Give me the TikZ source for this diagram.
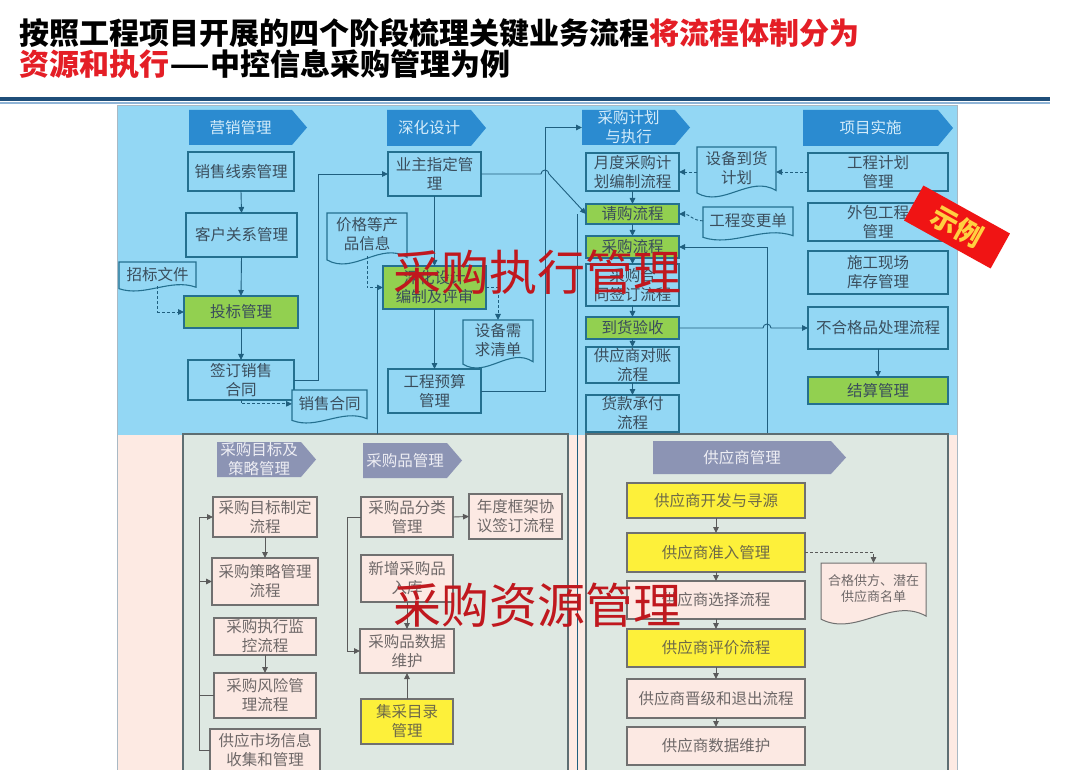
\documentclass[tikz,border=0pt]{standalone}
\usepackage{fontspec}
\usepackage{graphicx}
\newfontfamily\cjk{Noto Sans CJK SC}
\usetikzlibrary{arrows.meta,calc}
\definecolor{topbg}{HTML}{93D7F4}
\definecolor{botbg}{HTML}{FDEAE3}
\definecolor{panelf}{HTML}{DEE8E2}
\definecolor{panelb}{HTML}{5E6E72}
\definecolor{tbord}{HTML}{24708F}
\definecolor{ttext}{HTML}{3A4D5C}
\definecolor{hblue}{HTML}{2B8BD0}
\definecolor{htext}{HTML}{D4ECFA}
\definecolor{hgray}{HTML}{8C94B4}
\definecolor{hgtext}{HTML}{EEEEF4}
\definecolor{green1}{HTML}{92D050}
\definecolor{pfill}{HTML}{FCE9E3}
\definecolor{pbord}{HTML}{707070}
\definecolor{ptext}{HTML}{6E6868}
\definecolor{yel}{HTML}{FDF03A}
\definecolor{ytext}{HTML}{6E6A48}
\definecolor{lcol}{HTML}{1F5F7F}
\definecolor{bl}{HTML}{5A5A5A}
\definecolor{ovred}{HTML}{C0181E}
\definecolor{tred}{HTML}{E41E26}
\definecolor{rule1}{HTML}{1F4E79}
\definecolor{rule2}{HTML}{8FB4D6}
\definecolor{framec}{HTML}{A9B9C4}
\definecolor{tagred}{HTML}{F01414}
\definecolor{tagyel}{HTML}{FFD040}
\tikzset{
 boxbase/.style={rectangle,inner sep=0pt,outer sep=0pt,align=center,font=\cjk\fontsize{15.5}{19}\selectfont},
 tb/.style={boxbase,draw=tbord,line width=1.1pt,fill=topbg,text=ttext},
 tg/.style={tb,fill=green1},
 pb/.style={boxbase,draw=pbord,line width=1.1pt,fill=pfill,text=ptext},
 py/.style={pb,fill=yel,text=ytext},
 doct/.style={draw=tbord,line width=1.1pt,fill=topbg},
 doctextt/.style={boxbase,text=ttext},
 docb/.style={draw=pbord,line width=1pt,fill=pfill},
 doctextb/.style={boxbase,text=ptext,font=\cjk\fontsize{13}{16}\selectfont},
 hdt/.style={fill=hblue},
 hdtextt/.style={boxbase,text=htext},
 hdb/.style={fill=hgray},
 hdtextb/.style={boxbase,text=hgtext},
 con/.style={draw=lcol,line width=0.9pt},
 arr/.style={con,-{Triangle[length=6pt,width=5.5pt]}},
 darr/.style={arr,dash pattern=on 3pt off 2pt},
 bcon/.style={draw=bl,line width=0.9pt},
 barr/.style={bcon,-{Triangle[length=6pt,width=5.5pt]}},
 bdarr/.style={barr,dash pattern=on 3pt off 2pt},
 ov/.style={text=ovred,font=\cjk\fontsize{48}{50}\selectfont,inner sep=0pt},
}
% box: style, name, x1, y1, x2, y2, text
\newcommand\bx[7]{\node[#1,minimum width={#5-#3},minimum height={#6-#4}] (#2) at ({(#3+#5)/2},{(#4+#6)/2}) {#7};}
% document: t/b, name, x1, y1, x2, y2, text
\newcommand\dc[7]{%
 \filldraw[doc#1] (#3,#4) -- (#5,#4) -- (#5,{#6-0.13*(#6-#4)}) .. controls ({#3+0.67*(#5-#3)},{#6-0.45*(#6-#4)}) and ({#3+0.33*(#5-#3)},{#6+0.22*(#6-#4)}) .. (#3,{#6-0.08*(#6-#4)}) -- cycle;
 \node[doctext#1,minimum width={#5-#3},minimum height={0.84*(#6-#4)}] (#2) at ({(#3+#5)/2},{#4+0.42*(#6-#4)}) {#7};}
% header: t/b, name, x1, y1, x2, y2, text
\newcommand\hd[7]{%
 \fill[hd#1] (#3,#4) -- ({#5-15},#4) -- (#5,{(#4+#6)/2}) -- ({#5-15},#6) -- (#3,#6) -- cycle;
 \node[hdtext#1,minimum width={#5-#3-15},minimum height={#6-#4}] (#2) at ({(#3+#5-15)/2},{(#4+#6)/2}) {#7};}
\begin{document}
\begin{tikzpicture}[x=1pt,y=-1pt]
\useasboundingbox (0,0) rectangle (1080,770);
\fill[white] (0,0) rectangle (1080,770);
% title
\node[anchor=west,inner sep=0pt,font=\cjk\bfseries\fontsize{30}{34}\selectfont] (t1) at (19,33) {按照工程项目开展的四个阶段梳理关键业务流程\textcolor{tred}{将流程体制分为}};
\node[anchor=west,inner sep=0pt,font=\cjk\bfseries\fontsize{30}{34}\selectfont] (t2) at (19,64) {\textcolor{tred}{资源和执行}\scalebox{1.5}[1]{—}中控信息采购管理为例};
\fill[rule1] (0,97) rectangle (1050,101.5);
\fill[rule2] (0,102) rectangle (1050,104);
% backgrounds
\fill[topbg] (117,106) rectangle (957,435);
\fill[botbg] (117,435) rectangle (957,770);
\draw[framec,line width=1pt] (117,106) -- (957,106) -- (957,770) (117,106) -- (117,770);
\filldraw[fill=panelf,draw=panelb,line width=1.1pt] (183,434) rectangle (568,775);
\filldraw[fill=panelf,draw=panelb,line width=1.1pt] (586,434) rectangle (948,775);
% ---- top: 营销管理
\hd{t}{yx}{189}{110}{307}{145}{营销管理}
\bx{tb}{xs}{188}{152}{294}{191}{销售线索管理}
\bx{tb}{kh}{186}{213}{297}{257}{客户关系管理}
\dc{t}{zbwj}{119}{262}{196}{291}{招标文件}
\bx{tg}{tbg}{184}{296}{298}{328}{投标管理}
\bx{tb}{qd}{188}{360}{294}{400}{签订销售\\合同}
\dc{t}{xsht}{292}{390}{367}{423}{销售合同}
% ---- 深化设计
\hd{t}{sh}{387}{110}{486}{146}{深化设计}
\bx{tb}{yz}{388}{152}{481}{196}{业主指定管\\理}
\dc{t}{jg}{327}{213}{407}{264}{价格等产\\品信息}
\bx{tg}{bz}{383}{266}{486}{309}{深化设计\\编制及评审}
\dc{t}{sb}{463}{320}{533}{368}{设备需\\求清单}
\bx{tb}{ys}{388}{369}{481}{413}{工程预算\\管理}
% ---- 采购计划与执行
\hd{t}{cj}{582}{110}{690}{145}{采购计划\\与执行}
\bx{tb}{yd}{586}{153}{679}{191}{月度采购计\\划编制流程}
\bx{tg}{qg}{586}{204}{679}{224}{请购流程}
\bx{tg}{cg}{586}{236}{679}{258}{采购流程}
\bx{tb}{ht}{586}{264}{679}{306}{采购合\\同签订流程}
\bx{tg}{dh}{586}{317}{679}{339}{到货验收}
\bx{tb}{dz}{586}{347}{679}{383}{供应商对账\\流程}
\bx{tb}{hk}{586}{395}{679}{432}{货款承付\\流程}
\dc{t}{sbdh}{697}{147}{776}{197}{设备到货\\计划}
\dc{t}{gcbg}{703}{207}{793}{240}{工程变更单}
% ---- 项目实施
\hd{t}{xm}{803}{110}{953}{146}{项目实施}
\bx{tb}{gj}{808}{153}{948}{191}{工程计划\\管理}
\bx{tb}{wb}{808}{203}{948}{241}{外包工程\\管理}
\bx{tb}{sg}{808}{251}{948}{294}{施工现场\\库存管理}
\bx{tb}{bhg}{808}{307}{948}{349}{不合格品处理流程}
\bx{tg}{js}{808}{377}{948}{404}{结算管理}
% ---- bottom left
\hd{b}{mbh}{217}{442}{316}{477}{采购目标及\\策略管理}
\bx{pb}{mb}{213}{497}{317}{537}{采购目标制定\\流程}
\bx{pb}{cl}{212}{558}{318}{605}{采购策略管理\\流程}
\bx{pb}{jk}{214}{618}{316}{655}{采购执行监\\控流程}
\bx{pb}{fx}{214}{673}{316}{718}{采购风险管\\理流程}
\bx{pb}{gy}{210}{729}{320}{772}{供应市场信息\\收集和管理}
% ---- 采购品管理
\hd{b}{cph}{363}{443}{462}{478}{采购品管理}
\bx{pb}{fl}{361}{497}{453}{537}{采购品分类\\管理}
\bx{pb}{nd}{469}{494}{562}{539}{年度框架协\\议签订流程}
\bx{pb}{xz}{361}{555}{453}{602}{新增采购品\\入库}
\bx{pb}{sj}{360}{629}{454}{673}{采购品数据\\维护}
\bx{py}{jc}{361}{699}{453}{744}{集采目录\\管理}
% ---- 供应商管理
\hd{b}{gysh}{653}{441}{846}{474}{供应商管理}
\bx{py}{kf}{627}{483}{805}{518}{供应商开发与寻源}
\bx{py}{zr}{627}{533}{805}{572}{供应商准入管理}
\bx{pb}{xe}{627}{581}{805}{619}{供应商选择流程}
\bx{py}{pj}{627}{629}{805}{667}{供应商评价流程}
\bx{pb}{jj}{627}{679}{805}{718}{供应商晋级和退出流程}
\bx{pb}{sw}{627}{727}{805}{765}{供应商数据维护}
\dc{b}{hg}{821}{563}{926}{624}{合格供方、潜在\\供应商名单}
% ---- coordinates for free ends
\coordinate (p377) at (377,434);
\coordinate (p577) at (577,770);
\coordinate (p767) at (767,433);
% ---- top connectors
\draw[arr] (xs.south) -- (kh.north);
\draw[arr] (kh.south) -- (tbg.north);
\draw[arr] (tbg.south) -- (qd.north);
\draw[darr] (zbwj.south) |- (tbg.west);
\draw[darr] (qd.south) |- (xsht.west);
\draw[arr] (qd.east) -- ++(24,0) |- (yz.west);
\draw[arr] (yz.south) -- (bz.north);
\draw[arr] (bz.south) -- (ys.north);
\draw[con] (p377) -- (p377 |- bz.west);
\draw[darr] (jg.south) |- (bz.west);
\draw[darr] (bz.east) -| (sb.north);
\draw[arr] (ys.east) -- ++(64,0) |- (cj.west);
\draw[arr] (yz.east) -- ++(13,0) |- ([xshift=-4pt]yz.east -| 545,214) arc[start angle=180,end angle=360,radius=4] -- (qg.west);
\draw[con] (p577) -- (p577 |- qg.west);
\draw[arr] (yd.south) -- (qg.north);
\draw[arr] (qg.south) -- (cg.north);
\draw[arr] (cg.south) -- (ht.north);
\draw[arr] (ht.south) -- (dh.north);
\draw[arr] (dh.south) -- (dz.north);
\draw[arr] (dz.south) -- (hk.north);
\draw[darr] (gj.west) -- (gj.west -| sbdh.east);
\draw[darr] (sbdh.west |- yd.east) -- (yd.east);
\draw[darr] (gcbg.west) to[out=180,in=0] (qg.east);
\draw[arr] (p767) |- (cg.east);
\draw[arr] (dh.east) -- ([xshift=-4pt]dh.east -| p767) arc[start angle=180,end angle=360,radius=4] -- (bhg.west);
\draw[arr] (bhg.south) -- (js.north);
% ---- bottom connectors
\draw[barr] (mb.south) -- (cl.north);
\draw[barr] (jk.south) -- (fx.north);
\draw[barr] (gy.west) -- ++(-11,0) |- (mb.west);
\draw[barr] ([xshift=-13pt]cl.west) -- (cl.west);
\draw[bcon] (fx.west) -- ++(-15,0);
\draw[barr] (fl.east) -- (nd.west);
\draw[barr] (fl.west) -- ++(-14,0) |- (sj.west);
\draw[barr] (xz.south) -- (sj.north);
\draw[barr] (jc.north) -- (sj.south);
\draw[barr] (kf.south) -- (zr.north);
\draw[barr] (zr.south) -- (xe.north);
\draw[barr] (xe.south) -- (pj.north);
\draw[barr] (pj.south) -- (jj.north);
\draw[barr] (jj.south) -- (sw.north);
\draw[bdarr] (zr.east) -| (hg.north);
% ---- overlays
\node[ov] (ov1) at (537,272) {采购执行管理};
\node[ov] (ov2) at (537,605) {采购资源管理};
\node[fill=tagred,text=tagyel,font=\cjk\bfseries\fontsize{27}{30}\selectfont,minimum width=99,minimum height=40,inner sep=0pt,rotate=-29] (tag) at (957,227) {示例};
\end{tikzpicture}
\end{document}
